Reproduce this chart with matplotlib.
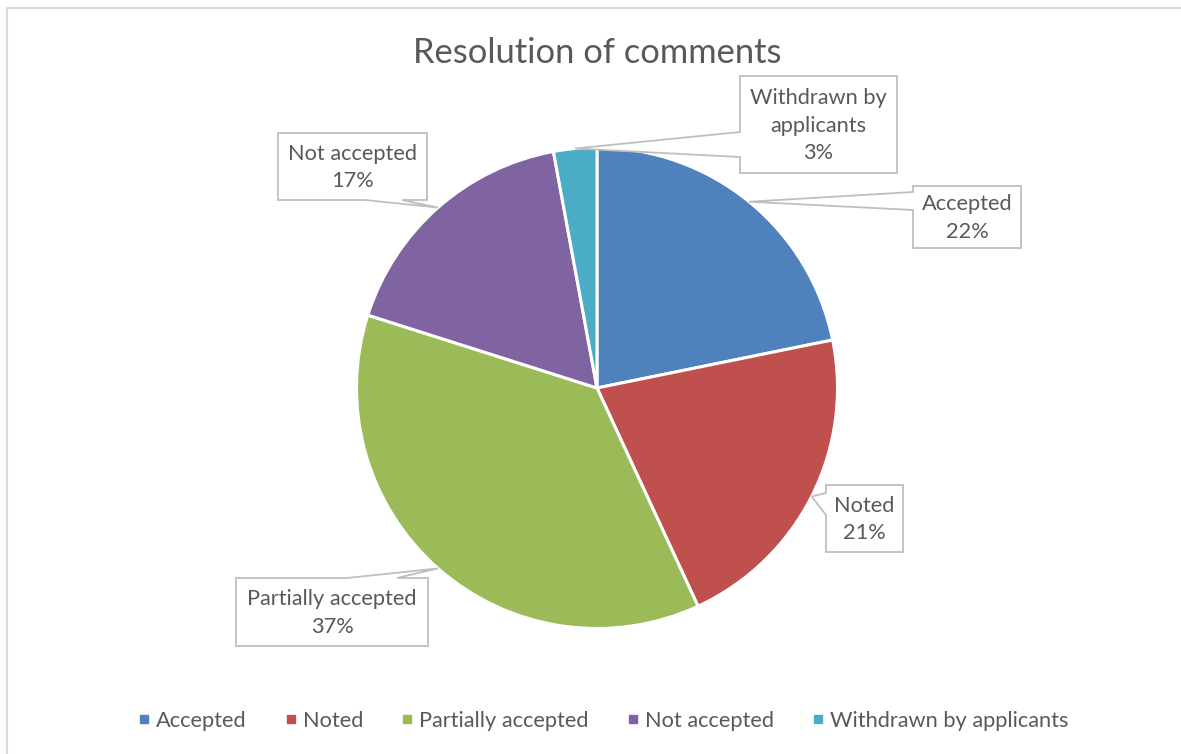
import matplotlib

matplotlib.use('Agg')
import matplotlib.pyplot as plt
from matplotlib.patches import Polygon, Rectangle
from matplotlib.lines import Line2D
import numpy as np

# datos del grafico
categories = ['Accepted', 'Noted', 'Partially accepted', 'Not accepted', 'Withdrawn by applicants']
shares = [21.8, 21.3, 36.8, 17.2, 2.9]
label_texts = ['Accepted', 'Noted', 'Partially accepted', 'Not accepted', 'Withdrawn by\napplicants']
colors = ['#4F81BD', '#C0504D', '#9BBB59', '#8064A2', '#4BACC6']

W, H = 1181, 754
CX, CY, R = 597, 388, 240.5  # centro y radio de la tarta en pixeles

# cajas de etiquetas en pixeles: izq, arriba, der, abajo, lado del puntero, tramo del puntero
boxes = [
    (913, 186, 1021, 248, 'left', 192, 210),
    (826, 485, 903, 552, 'left', 493, 515),
    (236, 578, 428, 646, 'top', 347, 397),
    (278, 133, 427, 200, 'bottom', 365, 402),
    (740, 76, 897, 173, 'left', 132, 157),
]

text_color = '#595959'
plt.rcParams['font.family'] = ['Lato', 'DejaVu Sans']


def to_data(px, py):
    return ((px - CX) / R, (CY - py) / R)


fig = plt.figure(figsize=(W / 100, H / 100), dpi=100)
ax = fig.add_axes([(CX - R) / W, (H - CY - R) / H, 2 * R / W, 2 * R / H])

ax.pie(shares, colors=colors, startangle=90, counterclock=False,
       wedgeprops=dict(edgecolor='white', linewidth=2.2))
ax.set_xlim(-1, 1)
ax.set_ylim(-1, 1)
ax.set_aspect('equal')
ax.axis('off')

# etiquetas tipo "callout"
total = sum(shares)
cum = 0
for i, v in enumerate(shares):
    mid = np.deg2rad(90 - 360 * (cum + v / 2) / total)
    cum += v
    tip = (np.cos(mid), np.sin(mid))
    l, t, r, b, side, a0, a1 = boxes[i]
    pts = [(l, t)]
    if side == 'top':
        pts += [(a0, t), 'tip', (a1, t)]
    pts += [(r, t), (r, b)]
    if side == 'bottom':
        pts += [(a1, b), 'tip', (a0, b)]
    pts += [(l, b)]
    if side == 'left':
        pts += [(l, a1), 'tip', (l, a0)]
    verts = [tip if p == 'tip' else to_data(*p) for p in pts]
    ax.add_patch(Polygon(verts, closed=True, facecolor='white', edgecolor='#BFBFBF',
                         linewidth=1.3, clip_on=False, zorder=5))
    pct = round(v / total * 100)
    cx, cy = to_data((l + r) / 2, (t + b) / 2 + 1)
    ax.text(cx, cy, f'{label_texts[i]}\n{pct}%', ha='center', va='center',
            multialignment='center', fontsize=15.7, color=text_color,
            linespacing=1.45, zorder=6, clip_on=False)

# titulo
fig.text(597 / W, 1 - 53 / H, 'Resolution of comments', ha='center', va='center',
         fontsize=24.8, color=text_color)

# leyenda
handles = [Line2D([], [], marker='s', ls='', color=c, markersize=6) for c in colors]
fig.legend(handles, categories, loc='center', bbox_to_anchor=(603 / W, 1 - 721 / H),
           ncol=5, frameon=False, handlelength=0.6, handletextpad=0.25,
           columnspacing=1.72, fontsize=15.7, labelcolor=text_color)

# borde del area del grafico
fig.patches.append(Rectangle((7 / W, -0.1), 1.2, (H - 8) / H + 0.1, transform=fig.transFigure,
                             fill=False, edgecolor='#D9D9D9', linewidth=1.5))

plt.savefig('out.png', dpi=100)
plt.close(fig)
